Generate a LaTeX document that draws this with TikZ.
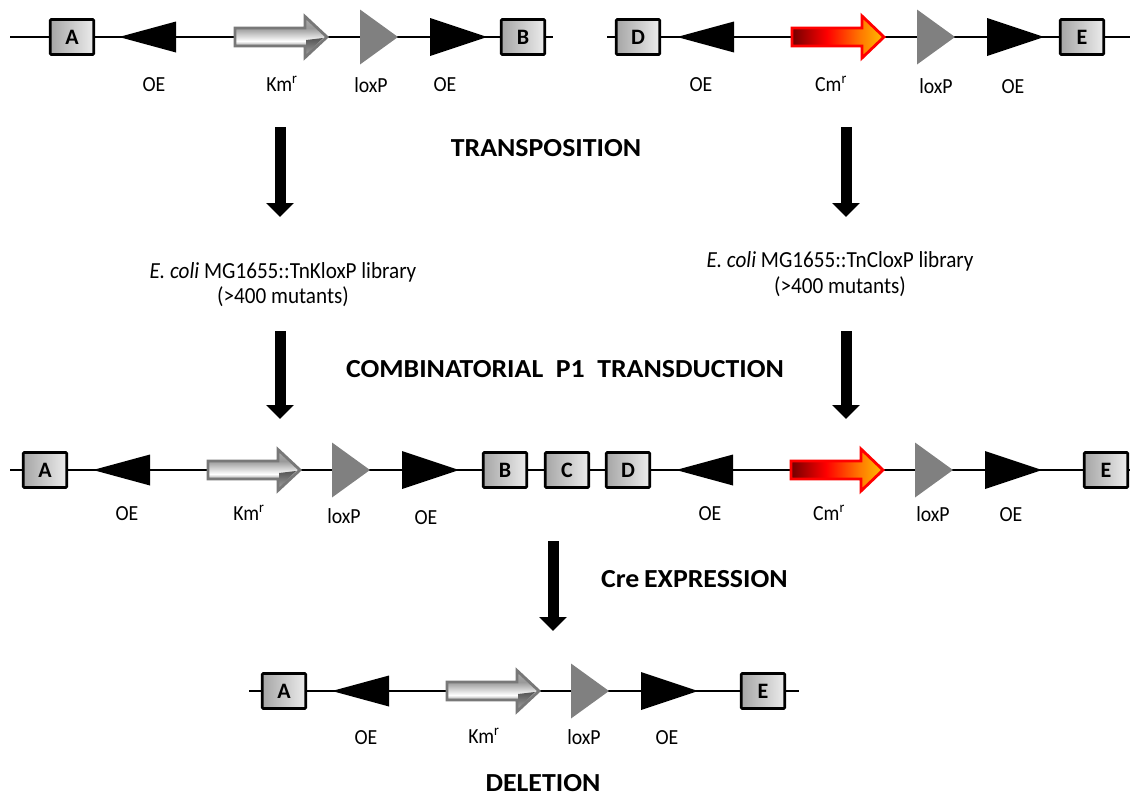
\documentclass[tikz,border=0pt]{standalone}
\usepackage{fontspec}
\setmainfont{Carlito}
\usetikzlibrary{arrows.meta}

\definecolor{loxgray}{RGB}{128,128,128}
\definecolor{kmedge}{RGB}{120,120,120}
\definecolor{kmdark}{RGB}{85,85,85}
\definecolor{cmdark}{RGB}{115,0,0}
\definecolor{cmmid}{RGB}{255,120,0}
\definecolor{cmorange}{RGB}{255,190,0}

% colour runs of the two resistance genes
\pgfdeclarehorizontalshading{cmgrad}{100bp}{color(0bp)=(cmdark); color(25bp)=(cmdark);
  color(44bp)=(red); color(62bp)=(cmmid); color(75bp)=(cmorange); color(100bp)=(cmorange)}
\pgfdeclareverticalshading{kmgrad}{100bp}{color(0bp)=(gray!75); color(25bp)=(gray!75);
  color(39bp)=(gray!80); color(45bp)=(white); color(52bp)=(gray!35); color(61bp)=(gray!80);
  color(75bp)=(gray!65); color(100bp)=(gray!65)}

% heading text is set slightly wide, body text slightly narrow
\newcommand{\hwide}[1]{\scalebox{1.07}[1]{#1}}
\newcommand{\nar}[1]{\scalebox{0.92}[1]{#1}}

\tikzset{
  spine/.style={line width=1.8pt},
  site/.style={draw, line width=2.8pt, rounded corners=1pt, minimum width=43.5pt,
    minimum height=35pt, inner sep=0pt, left color=gray!70, right color=gray!15,
    font=\bfseries\fontsize{22}{22}\selectfont},
  lbl/.style={anchor=base, inner sep=0pt, font=\fontsize{21.5}{22}\selectfont},
  heading/.style={anchor=base, inner sep=0pt, font=\bfseries\fontsize{26}{26}\selectfont},
  libtext/.style={anchor=base, inner sep=0pt, font=\fontsize{23}{24}\selectfont},
  flow/.style={line width=11pt, -{Triangle[width=27pt,length=14pt]}},
  % inverted repeat pointing left, tip at the origin
  oeleft/.pic={\fill (0,0) -- (57,-15.5) -- (57,15.5) -- cycle;},
  % inverted repeat pointing right, base at the origin
  oeright/.pic={\fill (0,-19) -- (57,0) -- (0,19) -- cycle;},
  % loxP site
  loxp/.pic={\fill[loxgray] (0,-27.5) -- (38,0) -- (0,27.5) -- cycle;},
  % kanamycin resistance gene
  kmr/.pic={
    \shade[shading=kmgrad]
      (0,-9) -- (70,-9) -- (70,-20.5) -- (92,0) -- (70,20.5) -- (70,9) -- (0,9) -- cycle;
    \shade[top color=kmdark, bottom color=gray!75] (71,3) -- (88,1) -- (71,18) -- cycle;
    \draw[kmedge, line width=2.8pt, line join=miter]
      (0,-9) -- (70,-9) -- (70,-20.5) -- (92,0) -- (70,20.5) -- (70,9) -- (0,9) -- cycle;},
  % chloramphenicol resistance gene
  cmr/.pic={\shade[shading=cmgrad, draw=red, line width=2.8pt, line join=miter]
      (0,-9) -- (70,-9) -- (70,-21) -- (92,0) -- (70,21) -- (70,9) -- (0,9) -- cycle;},
}

\begin{document}
\begin{tikzpicture}[x=1pt, y=-1pt]
\useasboundingbox (0,0) rectangle (1130,798);

% ---------------- TnKloxP insertion (top left)
\coordinate (s1a) at (10,37);
\coordinate (s1b) at (553,37);
\draw[spine] (s1a) -- (s1b);
\pic at (119,37) {oeleft};
\pic at (235,37) {kmr};
\pic at (360,37) {loxp};
\pic at (430,37) {oeright};
\node[site] (A1) at (72,37) {A};
\node[site] (B1) at (523,37) {B};
\node[lbl] (l1a) at (154,91) {\nar{OE}};
\node[lbl] (l1b) at (282,91) {\nar{Km\textsuperscript{r}}};
\node[lbl] (l1c) at (371,92) {\nar{loxP}};
\node[lbl] (l1d) at (445,91) {\nar{OE}};

% ---------------- TnCloxP insertion (top right)
\coordinate (s2a) at (607,37);
\coordinate (s2b) at (1130,37);
\draw[spine] (s2a) -- (s2b);
\pic at (677,37) {oeleft};
\pic at (792,37) {cmr};
\pic at (917,37) {loxp};
\pic at (987,37) {oeright};
\node[site] (D1) at (638,37) {D};
\node[site] (E1) at (1082,37) {E};
\node[lbl] (l2a) at (701,91) {\nar{OE}};
\node[lbl] (l2b) at (831,91) {\nar{Cm\textsuperscript{r}}};
\node[lbl] (l2c) at (936,93) {\nar{loxP}};
\node[lbl] (l2d) at (1013,93) {\nar{OE}};

% ---------------- transposition step
\coordinate (t1s) at (280,127);
\coordinate (t1e) at (280,217);
\coordinate (t2s) at (846,127);
\coordinate (t2e) at (846,217);
\draw[flow] (t1s) -- (t1e);
\draw[flow] (t2s) -- (t2e);
\node[heading] (hTr) at (546,156) {\hwide{TRANSPOSITION}};

% ---------------- mutant libraries
\node[libtext] (libK1) at (283,278) {\nar{\textit{E. coli} MG1655::TnKloxP library}};
\node[libtext] (libK2) at (283,303) {\nar{(>400 mutants)}};
\node[libtext] (libC1) at (840,267) {\nar{\textit{E. coli} MG1655::TnCloxP library}};
\node[libtext] (libC2) at (840,293) {\nar{(>400 mutants)}};

% ---------------- transduction step
\coordinate (p1s) at (280,331);
\coordinate (p1e) at (280,419);
\coordinate (p2s) at (846,331);
\coordinate (p2e) at (846,419);
\draw[flow] (p1s) -- (p1e);
\draw[flow] (p2s) -- (p2e);
\node[heading] (hP1) at (565,377) {\hwide{COMBINATORIAL\ \ P1\ \ TRANSDUCTION}};

% ---------------- double insertion
\coordinate (s3a) at (10,470);
\coordinate (s3b) at (1130,470);
\draw[spine, line width=1.4pt] (s3a) -- (s3b);
\pic at (93,470) {oeleft};
\pic at (208,470) {kmr};
\pic at (332,470) {loxp};
\pic at (402,470) {oeright};
\pic at (676,470) {oeleft};
\pic at (791,470) {cmr};
\pic at (915,470) {loxp};
\pic at (985,470) {oeright};
\node[site] (A2) at (45,470) {A};
\node[site] (B2) at (505,470) {B};
\node[site] (C2) at (567,470) {C};
\node[site] (D2) at (628,470) {D};
\node[site] (E2) at (1106,470) {E};
\node[lbl] (l3a) at (127,520) {\nar{OE}};
\node[lbl] (l3b) at (249,520) {\nar{Km\textsuperscript{r}}};
\node[lbl] (l3c) at (344,523) {\nar{loxP}};
\node[lbl] (l3d) at (426,524) {\nar{OE}};
\node[lbl] (l3e) at (710,520) {\nar{OE}};
\node[lbl] (l3f) at (829,520) {\nar{Cm\textsuperscript{r}}};
\node[lbl] (l3g) at (933,521) {\nar{loxP}};
\node[lbl] (l3h) at (1011,521) {\nar{OE}};

% ---------------- Cre step
\coordinate (c1s) at (553,541);
\coordinate (c1e) at (553,631);
\draw[flow] (c1s) -- (c1e);
\node[heading, anchor=base west] (hCre) at (601,587) {\hwide{Cre\,EXPRESSION}};

% ---------------- deletion product
\coordinate (s4a) at (249,691);
\coordinate (s4b) at (799,691);
\draw[spine] (s4a) -- (s4b);
\pic at (332,691) {oeleft};
\pic at (447,691) {kmr};
\pic at (571,691) {loxp};
\pic at (641,691) {oeright};
\node[site] (A3) at (284,691) {A};
\node[site] (E3) at (763,691) {E};
\node[lbl] (l4a) at (366,744) {\nar{OE}};
\node[lbl] (l4b) at (484,743) {\nar{Km\textsuperscript{r}}};
\node[lbl] (l4c) at (584,744) {\nar{loxP}};
\node[lbl] (l4d) at (667,744) {\nar{OE}};
\node[heading] (hDel) at (543,791) {\hwide{DELETION}};
\end{tikzpicture}
\end{document}
